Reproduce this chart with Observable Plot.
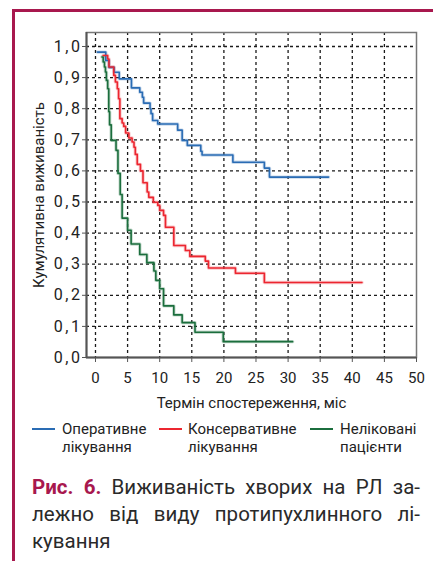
<!DOCTYPE html>
<html><head><meta charset="utf-8">
<script src="https://cdn.jsdelivr.net/npm/d3@7"></script>
<script src="https://cdn.jsdelivr.net/npm/@observablehq/plot@0.6"></script>
<style>
html,body{margin:0;padding:0;background:#fff;}
body{width:433px;height:561px;position:relative;overflow:hidden;font-family:Roboto,"Noto Sans",sans-serif;}
#border{position:absolute;left:12px;top:9px;right:0;bottom:-5px;border-left:3px solid #a8184e;border-top:3px solid #a8184e;}
#chart{position:absolute;left:0;top:0;}
#legend{position:absolute;top:420px;left:0;width:433px;height:40px;font-size:15px;line-height:18px;color:#222;text-align:left;}
.sw{position:absolute;top:8px;height:2px;}
.lt{position:absolute;top:0;white-space:nowrap;text-align:left;}
#caption{position:absolute;left:32px;top:474px;width:388px;font-size:20.5px;line-height:27px;color:#2a2a2a;}
#caption div{text-align:justify;text-align-last:justify;white-space:nowrap;}
#caption div.last{text-align-last:left;}
#caption b{color:#a8184e;}
#chart g[aria-label="y-axis tick label"] text{letter-spacing:2.5px;font-size:16px;}
</style></head>
<body>
<div id="border"></div>
<div id="chart"></div>
<div id="legend"></div>
<div id="caption"></div>
<script>
const seriesNames = ["Оперативне лікування", "Консервативне лікування", "Неліковані пацієнти"];
const legendLines = [["Оперативне", "лікування"], ["Консервативне", "лікування"], ["Неліковані", "пацієнти"]];
const seriesColors = ["#2a6cb4", "#ec2630", "#1b6e3d"];

// Оперативне лікування
const opT = [0.3, 1.6, 2.1, 2.9, 3.7, 5.6, 6.9, 7.3, 7.5, 8.5, 8.65, 8.9, 9.7, 12.8, 13.5, 14.3, 16.4, 16.6, 21.4, 26.3, 27.1, 36.3];
const opS = [0.982, 0.955, 0.933, 0.917, 0.896, 0.867, 0.853, 0.837, 0.818, 0.8, 0.784, 0.762, 0.751, 0.731, 0.698, 0.682, 0.663, 0.651, 0.628, 0.609, 0.58, 0.58];
// Консервативне лікування
const consT = [1.2, 1.9, 2.1, 2.85, 3.1, 3.4, 3.6, 3.8, 4.15, 4.4, 4.7, 5.2, 5.7, 6.0, 6.2, 6.5, 7.0, 7.4, 8.05, 8.3, 9.0, 9.7, 10.0, 10.6, 10.9, 12.2, 14.0, 14.7, 17.1, 17.6, 21.8, 26.3, 41.5];
const consS = [0.971, 0.96, 0.934, 0.907, 0.886, 0.864, 0.832, 0.768, 0.754, 0.743, 0.722, 0.706, 0.693, 0.676, 0.653, 0.621, 0.6, 0.562, 0.532, 0.515, 0.499, 0.489, 0.473, 0.457, 0.419, 0.36, 0.344, 0.325, 0.31, 0.288, 0.271, 0.241, 0.241];
// Неліковані пацієнти
const noT = [1.0, 1.2, 1.4, 1.55, 1.7, 1.9, 2.07, 2.2, 2.45, 3.2, 3.5, 3.85, 4.15, 5.0, 5.55, 6.9, 8.0, 9.1, 9.4, 10.0, 10.6, 12.2, 13.5, 15.5, 19.9, 30.7];
const noS = [0.966, 0.95, 0.934, 0.918, 0.891, 0.864, 0.79, 0.748, 0.698, 0.666, 0.592, 0.524, 0.448, 0.409, 0.365, 0.331, 0.305, 0.278, 0.248, 0.221, 0.166, 0.137, 0.112, 0.081, 0.051, 0.051];

const xTicks = [0, 5, 10, 15, 20, 25, 30, 35, 40, 45, 50];
const yTicks = [0, 0.1, 0.2, 0.3, 0.4, 0.5, 0.6, 0.7, 0.8, 0.9, 1.0];
const xLabel = "Термін спостереження, міс";
const yLabel = "Кумулятивна виживаність";
const captionBold = "Рис. 6.";
const captionLines = ["Виживаність хворих на РЛ за-", "лежно від виду протипухлинного лі-", "кування"];

const xDomain = [-1.4, 50];
const yDomain = [0, 1.045];

const rows = [[opT, opS], [consT, consS], [noT, noS]].flatMap(([T, S], i) =>
  T.map((t, j) => ({series: seriesNames[i], t, s: S[j]})));

const grid = {stroke: "#1a1a1a", strokeWidth: 1.3, strokeDasharray: "3,3"};

const chart = Plot.plot({
  width: 433, height: 415,
  marginLeft: 86, marginRight: 17, marginTop: 32, marginBottom: 58,
  style: {fontFamily: "Roboto, sans-serif", fontSize: "15px", color: "#222", background: "transparent"},
  x: {domain: xDomain},
  y: {domain: yDomain},
  color: {domain: seriesNames, range: seriesColors},
  marks: [
    Plot.ruleY(yTicks.filter(d => d > 0), grid),
    Plot.ruleX(xTicks.filter(d => d < 50), grid),
    Plot.frame({stroke: "#777", strokeWidth: 1.5}),
    Plot.ruleX([xDomain[0]], {stroke: "#555", strokeWidth: 2}),
    Plot.ruleY([yDomain[0]], {stroke: "#555", strokeWidth: 2}),
    Plot.line(rows, {x: "t", y: "s", z: "series", stroke: "series", curve: "step-after", strokeWidth: 3.4, strokeOpacity: 0.25}),
    Plot.line(rows, {x: "t", y: "s", z: "series", stroke: "series", curve: "step-after", strokeWidth: 1.6}),
    Plot.axisX({ticks: xTicks, tickSize: 5, tickPadding: 10, stroke: "#555", label: xLabel, labelAnchor: "center", labelArrow: "none", labelOffset: 50}),
    Plot.axisY({ticks: yTicks, tickSize: 4, tickPadding: 0, stroke: "#555", tickFormat: d => d.toFixed(1).replace(".", ","), label: yLabel, labelAnchor: "center", labelArrow: "none", labelOffset: 53})
  ]
});
document.getElementById("chart").appendChild(chart);

// legend
const swX = [32, 159, 310];
const txX = [62, 188, 340];
const legend = document.getElementById("legend");
legendLines.forEach((lines, i) => {
  const sw = document.createElement("div");
  sw.className = "sw";
  sw.style.left = swX[i] + "px";
  sw.style.width = "23px";
  sw.style.background = seriesColors[i];
  legend.appendChild(sw);
  const tx = document.createElement("div");
  tx.className = "lt";
  tx.style.left = txX[i] + "px";
  tx.innerHTML = lines.join("<br>");
  legend.appendChild(tx);
});

// caption
const cap = document.getElementById("caption");
captionLines.forEach((line, i) => {
  const d = document.createElement("div");
  if (i === captionLines.length - 1) d.className = "last";
  if (i === 0) {
    const b = document.createElement("b");
    b.textContent = captionBold;
    d.appendChild(b);
    d.appendChild(document.createTextNode(" " + line));
  } else {
    d.textContent = line;
  }
  cap.appendChild(d);
});
</script>
</body></html>
